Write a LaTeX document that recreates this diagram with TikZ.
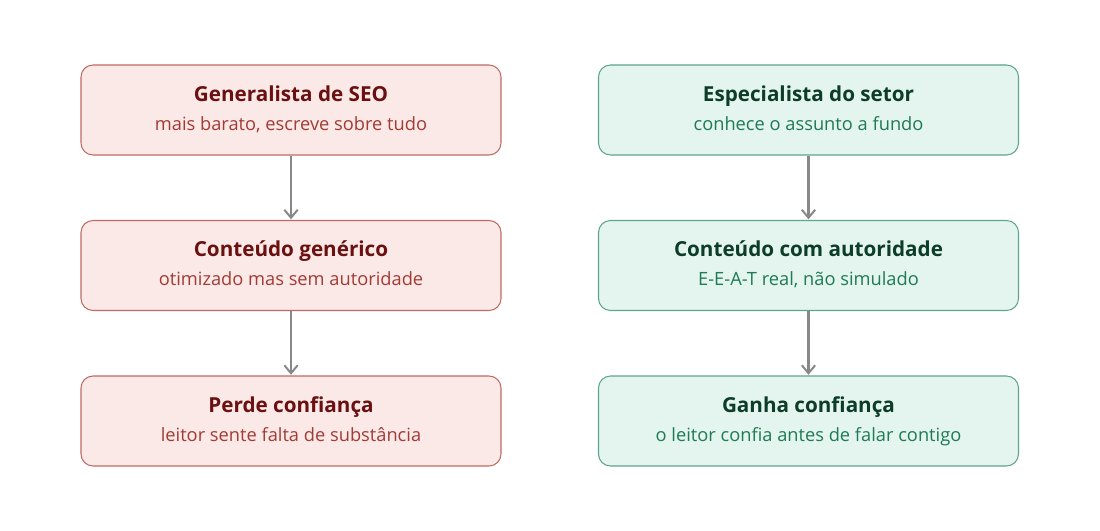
\documentclass[tikz,border=0pt]{standalone}
\usepackage{fontspec}
\setmainfont{Open Sans}
\usetikzlibrary{arrows.meta}
\definecolor{rfill}{HTML}{FBE9E7}
\definecolor{rdraw}{HTML}{BF6A64}
\definecolor{rtitle}{HTML}{6A1010}
\definecolor{rsub}{HTML}{A33A34}
\definecolor{gfill}{HTML}{E3F5EE}
\definecolor{gdraw}{HTML}{5FA588}
\definecolor{gtitle}{HTML}{0D3D29}
\definecolor{gsub}{HTML}{1F7A56}
\definecolor{arr}{HTML}{888888}
\tikzset{
  box/.style={rounded corners=9pt, minimum width=315pt, minimum height=67.5pt, line width=0.8pt, inner sep=0pt, align=center, font=\fontsize{13.7pt}{21.75pt}\selectfont},
  redbox/.style={box, fill=rfill, draw=rdraw},
  greenbox/.style={box, fill=gfill, draw=gdraw},
  conn/.style={draw=arr, line width=1.8pt, -{Straight Barb[length=6pt,width=10pt,line width=1.5pt]}, shorten >=0.5pt},
}
\newcommand{\rt}[2]{{\fontsize{15.5pt}{21.75pt}\selectfont\bfseries\color{rtitle}\strut#1}\\{\color{rsub}#2\strut}}
\newcommand{\gt}[2]{{\fontsize{15.5pt}{21.75pt}\selectfont\bfseries\color{gtitle}\strut#1}\\{\color{gsub}#2\strut}}
\begin{document}
\begin{tikzpicture}[x=0.75pt,y=-0.75pt]
\useasboundingbox (0,0) rectangle (1100,531);
\node[redbox] (r1) at (291,110) {\rt{Generalista de SEO}{mais barato, escreve sobre tudo}};
\node[redbox] (r2) at (291,265.5) {\rt{Conteúdo genérico}{otimizado mas sem autoridade}};
\node[redbox] (r3) at (291,421) {\rt{Perde confiança}{leitor sente falta de substância}};
\node[greenbox] (g1) at (808.5,110) {\gt{Especialista do setor}{conhece o assunto a fundo}};
\node[greenbox] (g2) at (808.5,265.5) {\gt{Conteúdo com autoridade}{E-E-A-T real, não simulado}};
\node[greenbox] (g3) at (808.5,421) {\gt{Ganha confiança}{o leitor confia antes de falar contigo}};
\draw[conn] (r1) -- (r2);
\draw[conn] (r2) -- (r3);
\draw[conn] (g1) -- (g2);
\draw[conn] (g2) -- (g3);
\end{tikzpicture}
\end{document}
